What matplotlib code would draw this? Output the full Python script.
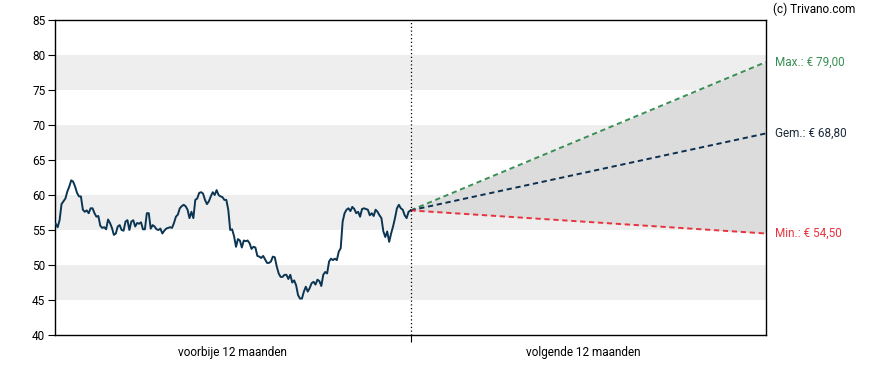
import numpy as np
import matplotlib
matplotlib.use("Agg")
import matplotlib.pyplot as plt

plt.rcParams['font.family'] = ['Roboto', 'DejaVu Sans']

# past 12 months closing prices
past_prices = [
    55.9, 55.4, 56.4, 58.7, 59.1, 59.5, 60.5, 61.2, 62.1, 61.9, 61.2, 60.3, 59.8, 59.8, 57.9, 57.6,
    57.8, 57.4, 58.1, 58.1, 57.4, 56.9, 57.0, 55.6, 55.3, 55.4, 55.1, 56.5, 56.0, 55.3, 54.3, 54.5,
    55.5, 55.7, 55.0, 54.9, 56.2, 56.4, 55.0, 56.2, 56.4, 55.5, 56.0, 55.9, 56.1, 55.1, 55.1, 57.4,
    57.4, 55.2, 55.7, 55.5, 55.1, 55.0, 55.2, 54.5, 54.9, 55.2, 55.3, 55.4, 55.3, 56.0, 56.9, 57.2,
    58.1, 58.4, 58.6, 58.4, 57.9, 56.7, 57.6, 56.7, 59.3, 59.5, 60.3, 60.4, 60.2, 59.3, 58.7, 59.1,
    59.8, 60.4, 60.0, 60.7, 60.0, 59.8, 59.7, 59.3, 59.3, 57.9, 55.0, 55.1, 54.1, 52.6, 53.7, 53.5,
    52.5, 53.5, 53.4, 53.5, 53.1, 52.3, 52.6, 52.5, 51.3, 51.2, 51.0, 51.3, 50.8, 50.3, 50.3, 50.5,
    51.2, 51.1, 49.8, 48.8, 48.3, 48.3, 48.6, 48.6, 48.0, 48.6, 47.5, 47.8,
    47.1, 45.7, 45.2, 45.2, 46.2, 46.9, 46.2, 46.7, 47.4, 47.6, 47.2, 47.9,
    47.7, 47.0, 48.6, 49.0, 48.8, 50.5, 50.9, 50.7, 50.9, 50.7, 51.9, 52.4, 56.2, 57.4, 57.9, 58.1,
    57.7, 58.3, 58.0, 57.4, 57.6, 56.9, 58.0, 58.1, 58.0, 57.9, 57.1, 57.4, 57.0, 57.9, 57.6, 57.1,
    56.7, 54.8, 54.0, 54.8, 53.3, 54.5, 55.5, 56.7, 58.1, 58.6, 58.1, 57.9, 57.1, 56.7, 57.6, 57.8,
]

forecast_start = 57.8
forecast_max = 79.00
forecast_avg = 68.80
forecast_min = 54.50

labels = ["voorbije 12 maanden", "volgende 12 maanden"]
max_label = "Max.: € 79,00"
avg_label = "Gem.: € 68,80"
min_label = "Min.: € 54,50"

navy = '#0b3553'
green = '#3a8f55'
red = '#e8333f'

fig = plt.figure(figsize=(8.88, 3.70), dpi=100)
ax = fig.add_axes([55/888, 35/370, 711/888, 315/370])

ax.set_xlim(0, 2)
ax.set_ylim(40, 85)

# background bands
for lo in range(45, 85, 10):
    ax.axhspan(lo, lo + 5, color='#eeeeee', lw=0, zorder=0)

# forecast fan
fx = [1, 2]
ax.fill_between(fx, [forecast_start, forecast_min], [forecast_start, forecast_max],
                color='#dcdcdc', lw=0, zorder=1)
dash = (0, (2.7, 1.9))
ax.plot(fx, [forecast_start, forecast_max], color=green, lw=1.4, ls=dash, zorder=3)
ax.plot(fx, [forecast_start, forecast_avg], color='#0d2f4f', lw=1.4, ls=dash, zorder=3)
ax.plot(fx, [forecast_start, forecast_min], color=red, lw=1.4, ls=dash, zorder=3)

# past prices
px = np.linspace(0.002, 1.0, len(past_prices))
ax.plot(px, past_prices, color=navy, lw=1.4, zorder=4, solid_joinstyle='round')

# divider
ax.axvline(1, color='black', lw=0.9, ls=(0, (1, 2)), zorder=5)

ax.set_yticks(range(40, 86, 5))
ax.set_xticks([1])
ax.set_xticklabels([])
ax.tick_params(axis='y', length=5, width=0.8, labelsize=8.5, pad=2, colors='black')
ax.tick_params(axis='x', length=5, width=0.8)
for s in ax.spines.values():
    s.set_linewidth(1.0)
    s.set_color('black')

ax.text(0.5, -0.035, labels[0], transform=ax.get_xaxis_transform(), ha='center', va='top', fontsize=8.5)
ax.text(1.485, -0.035, labels[1], transform=ax.get_xaxis_transform(), ha='center', va='top', fontsize=8.5)

ax.text(2.025, forecast_max, max_label, color=green, fontsize=8.5, va='center', ha='left', clip_on=False)
ax.text(2.025, forecast_avg, avg_label, color='#1a2a3a', fontsize=8.5, va='center', ha='left', clip_on=False)
ax.text(2.025, forecast_min, min_label, color=red, fontsize=8.5, va='center', ha='left', clip_on=False)

fig.text(773/888, 1 - 9/370, "(c) Trivano.com", fontsize=8.5, ha='left', va='center')

fig.savefig('out.png', dpi=100)
